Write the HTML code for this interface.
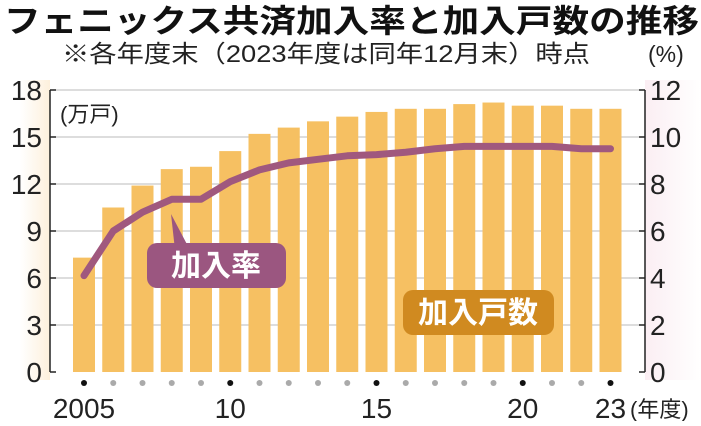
<!DOCTYPE html>
<html><head><meta charset="utf-8"><style>
body{margin:0;background:#fff;width:701px;height:421px;overflow:hidden}
text{font-family:"Liberation Sans","Noto Sans CJK JP",sans-serif}
</style></head><body>
<svg width="701" height="421" viewBox="0 0 701 421" id="chart">
<defs>
<linearGradient id="lg" x1="0" x2="1"><stop offset="0" stop-color="#fff"/><stop offset="1" stop-color="#fdf0dc"/></linearGradient>
<linearGradient id="rg" x1="0" x2="1"><stop offset="0" stop-color="#fbeef3"/><stop offset="1" stop-color="#fff"/></linearGradient>
</defs>
<rect x="20" y="80" width="30" height="300" fill="url(#lg)"/>
<rect x="645" y="80" width="56" height="300" fill="url(#rg)"/>
<text x="4" y="32" font-size="32" font-weight="bold" fill="#111" textLength="695" lengthAdjust="spacingAndGlyphs">フェニックス共済加入率と加入戸数の推移</text>
<text x="62" y="62" font-size="24" fill="#222" textLength="528" lengthAdjust="spacingAndGlyphs">※各年度末（2023年度は同年12月末）時点</text>
<text x="648" y="62" font-size="23" fill="#222">(%)</text>
<g id="grid"></g><g id="bars"></g><g id="line"></g><g id="axes"></g>
<text x="60" y="122" font-size="22" fill="#222">(万戸)</text>
<g>
<path d="M171 214 L190 250 L175 250 Z" fill="#9b5680"/>
<rect x="147" y="243" width="139" height="45" rx="10" fill="#9b5680"/>
<text x="216" y="276" font-size="30" font-weight="bold" fill="#fff" text-anchor="middle">加入率</text>
</g>
<g>
<rect x="403" y="290" width="151" height="45" rx="10" fill="#d08a20"/>
<text x="478" y="323" font-size="30" font-weight="bold" fill="#fff" text-anchor="middle">加入戸数</text>
</g>
</svg>
<script>
const years=[2005,2006,2007,2008,2009,2010,2011,2012,2013,2014,2015,2016,2017,2018,2019,2020,2021,2022,2023];
const households=[7.3,10.5,11.9,12.95,13.1,14.1,15.2,15.6,16.0,16.3,16.6,16.8,16.8,17.1,17.2,17.0,17.0,16.8,16.8];
const rate=[4.1,6.0,6.8,7.35,7.35,8.1,8.6,8.9,9.05,9.2,9.25,9.35,9.5,9.6,9.6,9.6,9.6,9.5,9.5];
const leftTicks=[0,3,6,9,12,15,18];
const rightTicks=[0,2,4,6,8,10,12];
const xLabels={2005:"2005",2010:"10",2015:"15",2020:"20",2023:"23"};
const NS="http://www.w3.org/2000/svg";
const x0=84,dx=29.25,yb=372,yt=90;
const xs=y=>x0+(y-2005)*dx;
const yl=v=>yb-(v/18)*(yb-yt);
const yr=v=>yb-(v/12)*(yb-yt);
function mk(t,a,p){const e=document.createElementNS(NS,t);for(const k in a)e.setAttribute(k,a[k]);p.appendChild(e);return e;}
const grid=document.getElementById('grid'),bars=document.getElementById('bars'),line=document.getElementById('line'),axes=document.getElementById('axes');
leftTicks.forEach((v,i)=>{
 if(v>0){const g=mk('line',{x1:50,x2:645,y1:yl(v),y2:yl(v),stroke:'#bbb','stroke-width':1},grid);
 
 }
 const t=mk('text',{x:42,y:yl(v)+10,'font-size':28,'text-anchor':'end',fill:'#222'},axes);t.textContent=v;
 
 
 const tk=mk('line',{x1:50,x2:56,y1:yl(v),y2:yl(v),stroke:'#222','stroke-width':1.5},axes);
 
 
});
rightTicks.forEach(v=>{
 const t=mk('text',{x:650,y:yr(v)+10,'font-size':28,fill:'#222'},axes);t.textContent=v;
 
 
 const tk=mk('line',{x1:639,x2:645,y1:yr(v),y2:yr(v),stroke:'#222','stroke-width':1.5},axes);
 
 
});
const la=mk('line',{x1:50,x2:50,y1:yt,y2:yb,stroke:'#222','stroke-width':1.5},axes);


const ra=mk('line',{x1:645,x2:645,y1:yt,y2:yb,stroke:'#222','stroke-width':1.5},axes);


years.forEach((y,i)=>{
 const b=mk('rect',{x:xs(y)-11,y:yl(households[i]),width:22,height:yb-yl(households[i]),fill:'#f6c062'},bars);
 
 
 const lab=xLabels[y]!==undefined;
 const d=mk('circle',{cx:xs(y),cy:383,r:3,fill:lab?'#111':'#aaa'},axes);
 
 
 if(lab){const t=mk('text',{x:xs(y),y:418,'font-size':28,'text-anchor':'middle',fill:'#222'},axes);t.textContent=xLabels[y];
 
 }
});
const unit=mk('text',{x:630,y:417,'font-size':22,fill:'#222'},axes);unit.textContent='(年度)';


const p=mk('polyline',{points:years.map((y,i)=>xs(y)+','+yr(rate[i])).join(' '),fill:'none',stroke:'#a0587e','stroke-width':7,'stroke-linejoin':'round','stroke-linecap':'round'},line);


</script>
</body></html>
